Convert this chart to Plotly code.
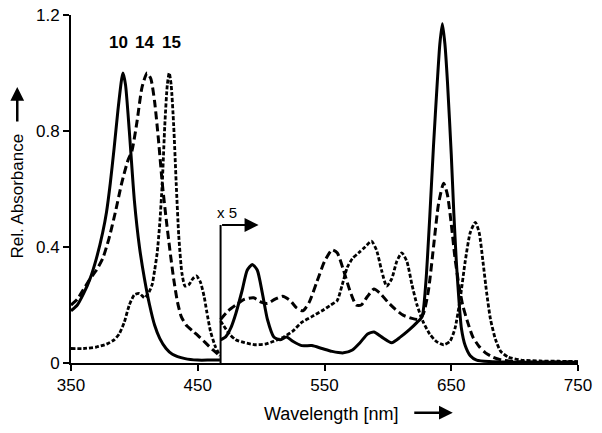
import plotly.graph_objects as go

# compound 10 (solid)
wl_10_uv = [350, 355, 360, 365, 370, 375, 378, 381, 384, 387, 390, 391, 393, 396, 400, 404,
            408, 412, 416, 420, 425, 430, 440, 450, 460, 467.5]
abs_10_uv = [0.18, 0.2, 0.24, 0.29, 0.36, 0.45, 0.52, 0.62, 0.74, 0.87, 0.98, 1.0, 0.96, 0.8,
             0.56, 0.4, 0.29, 0.2, 0.13, 0.085, 0.05, 0.03, 0.015, 0.01, 0.01, 0.01]
wl_10_vis = [468, 472, 476, 480, 485, 489, 493, 497, 501, 505, 510, 515, 520, 525, 532, 540,
             548, 556, 565, 572, 578, 584, 589, 595, 603, 610, 617, 623, 627, 630, 633, 636,
             639, 641, 643, 645, 647, 650, 652, 654, 656, 658, 661, 665, 670, 680, 700, 750]
abs_10_vis = [0.08, 0.09, 0.12, 0.17, 0.25, 0.32, 0.34, 0.32, 0.24, 0.15, 0.09, 0.08, 0.09,
              0.075, 0.06, 0.06, 0.05, 0.04, 0.035, 0.045, 0.07, 0.1, 0.107, 0.09, 0.07, 0.09,
              0.115, 0.14, 0.16, 0.28, 0.5, 0.75, 0.97, 1.1, 1.17, 1.1, 0.97, 0.72, 0.52, 0.35,
              0.22, 0.12, 0.06, 0.025, 0.01, 0.005, 0.003, 0.003]

# compound 14 (dashed)
wl_14_uv = [350, 355, 360, 365, 370, 375, 380, 385, 390, 395, 398, 402, 406, 410, 413, 416,
            419, 422, 425, 428, 431, 434, 437, 441, 446, 450, 456, 462, 467.5]
abs_14_uv = [0.2, 0.22, 0.255, 0.29, 0.32, 0.36, 0.43, 0.52, 0.62, 0.7, 0.73, 0.83, 0.95, 1.0,
             0.98, 0.9, 0.77, 0.62, 0.5, 0.39, 0.29, 0.21, 0.16, 0.13, 0.11, 0.095, 0.07,
             0.045, 0.025]
wl_14_vis = [468, 474, 480, 487, 494, 500, 505, 511, 517, 523, 528, 533, 538, 544, 550, 556,
             560, 565, 570, 575, 579, 584, 589, 594, 600, 606, 612, 618, 624, 628, 632, 636,
             640, 644, 647, 650, 653, 656, 659, 663, 667, 672, 677, 683, 690, 700, 750]
abs_14_vis = [0.15, 0.18, 0.2, 0.22, 0.225, 0.21, 0.205, 0.22, 0.23, 0.215, 0.19, 0.18, 0.21,
              0.28, 0.35, 0.39, 0.38, 0.32, 0.25, 0.2, 0.2, 0.23, 0.255, 0.24, 0.21, 0.185,
              0.165, 0.155, 0.15, 0.17, 0.25, 0.4, 0.55, 0.62, 0.58, 0.48, 0.36, 0.27, 0.2,
              0.14, 0.09, 0.057, 0.035, 0.02, 0.01, 0.005, 0.003]

# compound 15 (dotted)
wl_15_uv = [350, 360, 370, 378, 384, 388, 392, 396, 400, 404, 408, 411, 414, 416, 418, 420,
            422, 424, 426, 427.5, 429, 431, 433, 435, 437.5, 440, 443, 446, 449, 452, 455,
            457, 460, 464, 467.5]
abs_15_uv = [0.05, 0.05, 0.055, 0.065, 0.08, 0.1, 0.14, 0.2, 0.235, 0.24, 0.225, 0.24, 0.27,
             0.32, 0.38, 0.48, 0.62, 0.82, 0.96, 1.0, 0.96, 0.82, 0.62, 0.44, 0.31, 0.265,
             0.27, 0.29, 0.3, 0.28, 0.23, 0.18, 0.11, 0.055, 0.025]
wl_15_vis = [468, 475, 480, 487, 495, 503, 510, 518, 525, 532, 540, 548, 555, 560, 564, 568,
             572, 577, 582, 587, 591, 595, 599, 603, 607, 611, 615, 619, 623, 628, 633, 638,
             644, 649, 653, 657, 661, 665, 669, 672, 675, 678, 681, 685, 689, 695, 705, 720,
             735, 750]
abs_15_vis = [0.145, 0.1, 0.08, 0.07, 0.063, 0.065, 0.075, 0.09, 0.11, 0.14, 0.16, 0.18, 0.2,
              0.215, 0.27, 0.33, 0.36, 0.38, 0.4, 0.42, 0.39, 0.32, 0.265, 0.29, 0.35, 0.38,
              0.35, 0.27, 0.2, 0.14, 0.1, 0.075, 0.063, 0.075, 0.12, 0.22, 0.35, 0.45, 0.485,
              0.45, 0.35, 0.24, 0.15, 0.08, 0.04, 0.02, 0.01, 0.007, 0.006, 0.005]

x_ticks = [350, 450, 550, 650, 750]
y_ticks = [0, 0.4, 0.8, 1.2]
y_tick_labels = ['0', '0.4', '0.8', '1.2']

styles = {
    '10': dict(color='black', width=3, dash='solid'),
    '14': dict(color='black', width=3, dash='8px,4px'),
    '15': dict(color='black', width=2.8, dash='4px,2px'),
}

series = [
    ('10', wl_10_uv, abs_10_uv), ('10', wl_10_vis, abs_10_vis),
    ('14', wl_14_uv, abs_14_uv), ('14', wl_14_vis, abs_14_vis),
    ('15', wl_15_uv, abs_15_uv), ('15', wl_15_vis, abs_15_vis),
]

fig = go.Figure()
for name, wl, ab in series:
    fig.add_trace(go.Scatter(x=wl, y=ab, mode='lines', name=name,
                             line=dict(shape='spline', smoothing=0.6, **styles[name]),
                             showlegend=False))

# x5 marker
fig.add_shape(type='line', x0=468, x1=468, y0=0, y1=0.476,
              line=dict(color='black', width=2))
fig.add_annotation(x=498, y=0.476, ax=468, ay=0.476, axref='x', ayref='y',
                   text='', showarrow=True, arrowhead=2, arrowsize=1.4, arrowwidth=2,
                   arrowcolor='black')
fig.add_annotation(x=473, y=0.518, text='x 5', showarrow=False,
                   font=dict(size=15, color='black'))

# compound labels
for label, xpos in [('10', 387.6), ('14', 408), ('15', 429)]:
    fig.add_annotation(x=xpos, y=1.105, text='<b>%s</b>' % label, showarrow=False,
                       font=dict(size=17, color='black'))

# axis titles, arrows drawn separately
fig.add_annotation(xref='paper', yref='paper', x=0.513, y=-0.146,
                   xanchor='center', yanchor='middle',
                   text='Wavelength [nm]', showarrow=False,
                   font=dict(size=18, color='black'))
fig.add_annotation(xref='paper', yref='paper', x=0.753, y=-0.1427, ax=-40, ay=0,
                   text='', showarrow=True, arrowhead=2, arrowsize=1.1, arrowwidth=2.5,
                   arrowcolor='black')
fig.add_annotation(xref='paper', yref='paper', x=-0.106, y=0.479,
                   xanchor='center', yanchor='middle',
                   text='Rel. Absorbance', textangle=-90, showarrow=False,
                   font=dict(size=17, color='black'))
fig.add_annotation(xref='paper', yref='paper', x=-0.106, y=0.793, ax=0, ay=36,
                   text='', showarrow=True, arrowhead=2, arrowsize=1.1, arrowwidth=2.5,
                   arrowcolor='black')

# page body adds an 8px offset, so margins are shifted to compensate
fig.update_layout(
    width=602, height=433,
    margin=dict(l=63, r=32, t=7, b=78),
    plot_bgcolor='white', paper_bgcolor='white',
    font=dict(family='Liberation Sans, Arial, sans-serif', size=17, color='black'),
)
fig.update_xaxes(range=[350, 750], tickvals=x_ticks, showline=True, linecolor='black',
                 linewidth=2, ticks='outside', ticklen=6, tickwidth=2, tickcolor='black',
                 showgrid=False, zeroline=False, ticklabeloverflow='allow', automargin=False)
fig.update_yaxes(range=[0, 1.2], tickvals=y_ticks, ticktext=y_tick_labels, showline=True,
                 linecolor='black', linewidth=2, ticks='outside', ticklen=6, tickwidth=2,
                 tickcolor='black', showgrid=False, zeroline=False, ticklabeloverflow='allow',
                 automargin=False)

fig.write_html("out.html")
